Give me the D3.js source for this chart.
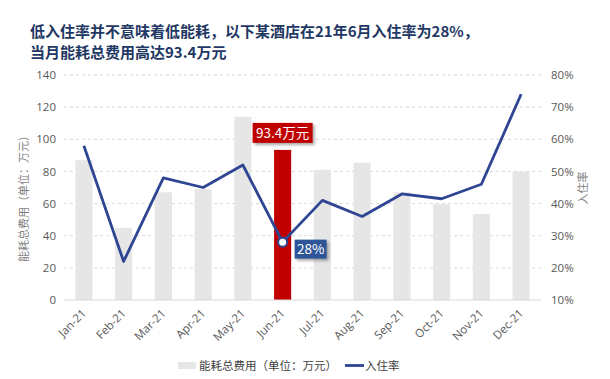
<!DOCTYPE html>
<html>
<head>
<meta charset="utf-8">
<script src="https://cdn.jsdelivr.net/npm/d3@7/dist/d3.min.js"></script>
<style>
  body { margin: 0; background: #fff; }
  svg { display: block; font-family: "Noto Sans CJK SC", "Noto Sans", sans-serif; }
</style>
</head>
<body>
<svg id="chart" width="610" height="379"></svg>
<script>
const months = ['Jan-21', 'Feb-21', 'Mar-21', 'Apr-21', 'May-21', 'Jun-21', 'Jul-21', 'Aug-21', 'Sep-21', 'Oct-21', 'Nov-21', 'Dec-21'];
const cost = [87, 45, 67, 69, 114, 93.4, 81, 85.5, 67, 59.5, 53.5, 80];
const occupancy = [0.58, 0.22, 0.48, 0.45, 0.52, 0.28, 0.41, 0.36, 0.43, 0.415, 0.46, 0.74];
const leftTicks = [0, 20, 40, 60, 80, 100, 120, 140];
const rightTicks = [0.1, 0.2, 0.3, 0.4, 0.5, 0.6, 0.7, 0.8];
const titleLines = ['低入住率并不意味着低能耗，以下某酒店在21年6月入住率为28%，', '当月能耗总费用高达93.4万元'];
const highlight = 'Jun-21';

const svg = d3.select('#chart');
const plotTop = 75, plotBottom = 300, plotLeft = 64, plotRight = 541;

const defs = svg.append('defs');
const f = defs.append('filter').attr('id', 'shadow').attr('x', '-20%').attr('y', '-20%').attr('width', '150%').attr('height', '160%');
f.append('feDropShadow').attr('dx', 2).attr('dy', 2).attr('stdDeviation', 1.5).attr('flood-color', '#000').attr('flood-opacity', 0.35);

// title
svg.append('g').selectAll('text')
  .data(titleLines)
  .enter()
  .append('text')
  .attr('x', 30)
  .attr('y', (d, i) => 37 + i * 21)
  .attr('font-size', 15)
  .attr('font-weight', 'bold')
  .attr('fill', '#1F3864')
  .text((d) => d);

const x = d3.scaleBand().domain(months).range([plotLeft, plotRight]).paddingInner(0.57).paddingOuter(0.285);
const yL = d3.scaleLinear().domain([0, 140]).range([plotBottom, plotTop]);
const yR = d3.scaleLinear().domain([0.1, 0.8]).range([plotBottom, plotTop]);

// grid
svg.append('g').selectAll('line')
  .data(leftTicks.slice(1))
  .enter()
  .append('line')
  .attr('x1', plotLeft).attr('x2', plotRight)
  .attr('y1', (d) => yL(d)).attr('y2', (d) => yL(d))
  .attr('stroke', '#D9D9D9')
  .attr('stroke-dasharray', '3,3');

// bars
svg.append('g').selectAll('rect')
  .data(months)
  .enter()
  .append('rect')
  .attr('x', (d) => x(d))
  .attr('width', x.bandwidth())
  .attr('y', (d, i) => yL(cost[i]))
  .attr('height', (d, i) => plotBottom - yL(cost[i]))
  .attr('fill', (d) => d === highlight ? '#C00000' : '#E6E6E6');

// base line
svg.append('line')
  .attr('x1', plotLeft).attr('x2', plotRight)
  .attr('y1', plotBottom).attr('y2', plotBottom)
  .attr('stroke', '#D9D9D9');

// left axis
const axL = svg.append('g')
  .attr('transform', `translate(${plotLeft - 8},0)`)
  .call(d3.axisLeft(yL).tickValues(leftTicks).tickSize(0).tickPadding(0));
axL.select('.domain').remove();
axL.selectAll('text').attr('font-size', 11.5).attr('fill', '#595959').attr('font-family', '"Open Sans", sans-serif');

// right axis
const axR = svg.append('g')
  .attr('transform', `translate(${plotRight + 10},0)`)
  .call(d3.axisRight(yR).tickValues(rightTicks).tickFormat(d3.format('.0%')).tickSize(0).tickPadding(0));
axR.select('.domain').remove();
axR.selectAll('text').attr('font-size', 11.5).attr('fill', '#595959').attr('font-family', '"Open Sans", sans-serif');

// bottom axis
const axB = svg.append('g')
  .attr('transform', `translate(0,${plotBottom})`)
  .call(d3.axisBottom(x).tickSize(0).tickPadding(0));
axB.select('.domain').remove();
axB.selectAll('text')
  .attr('font-size', 11.5)
  .attr('fill', '#595959')
  .attr('font-family', '"Open Sans", sans-serif')
  .attr('text-anchor', 'end')
  .attr('dy', 0)
  .attr('transform', 'translate(3,14) rotate(-45)');

// axis titles
svg.append('text')
  .attr('transform', 'translate(28,196) rotate(-90)')
  .attr('text-anchor', 'middle')
  .attr('font-size', 11)
  .attr('fill', '#7F7F7F')
  .text('能耗总费用（单位：万元）');
svg.append('text')
  .attr('transform', 'translate(587,188) rotate(-90)')
  .attr('text-anchor', 'middle')
  .attr('font-size', 11)
  .attr('fill', '#7F7F7F')
  .text('入住率');

// line
const cx = (d) => x(d) + x.bandwidth() / 2;
const line = d3.line()
  .x((d, i) => cx(months[i]))
  .y((d) => yR(d));
svg.append('path')
  .datum(occupancy)
  .attr('d', line)
  .attr('fill', 'none')
  .attr('stroke', '#2E4593')
  .attr('stroke-width', 2.8)
  .attr('stroke-linejoin', 'round');

// highlight marker and labels
const hi = months.indexOf(highlight);
svg.append('circle')
  .attr('cx', cx(highlight))
  .attr('cy', yR(occupancy[hi]))
  .attr('r', 4.5)
  .attr('fill', '#fff')
  .attr('stroke', '#2E4593')
  .attr('stroke-width', 2);

const costLabel = svg.append('g').attr('transform', `translate(${cx(highlight)},${yL(cost[hi]) - 17})`);
costLabel.append('rect')
  .attr('x', -30).attr('y', -10).attr('width', 60).attr('height', 20)
  .attr('fill', '#C00000')
  .attr('filter', 'url(#shadow)');
costLabel.append('text')
  .attr('text-anchor', 'middle')
  .attr('dy', '0.36em')
  .attr('font-size', 13.5)
  .attr('fill', '#fff')
  .text(cost[hi] + '万元');

const occLabel = svg.append('g').attr('transform', `translate(${cx(highlight) + 28},${yR(occupancy[hi]) + 7})`);
occLabel.append('rect')
  .attr('x', -16).attr('y', -9.5).attr('width', 32).attr('height', 19)
  .attr('fill', '#2F5597')
  .attr('filter', 'url(#shadow)');
occLabel.append('text')
  .attr('text-anchor', 'middle')
  .attr('dy', '0.36em')
  .attr('font-size', 13.5)
  .attr('fill', '#fff')
  .text(d3.format('.0%')(occupancy[hi]));

// legend
const lg = svg.append('g');
lg.append('rect').attr('x', 178).attr('y', 362).attr('width', 18).attr('height', 7).attr('fill', '#E6E6E6');
lg.append('text').attr('x', 199).attr('y', 369.5).attr('font-size', 11.5).attr('fill', '#404040').text('能耗总费用（单位：万元）');
lg.append('line').attr('x1', 345).attr('x2', 364).attr('y1', 365.5).attr('y2', 365.5).attr('stroke', '#2E4593').attr('stroke-width', 2.8);
lg.append('text').attr('x', 365).attr('y', 369.5).attr('font-size', 11.5).attr('fill', '#404040').text('入住率');
</script>
</body>
</html>
